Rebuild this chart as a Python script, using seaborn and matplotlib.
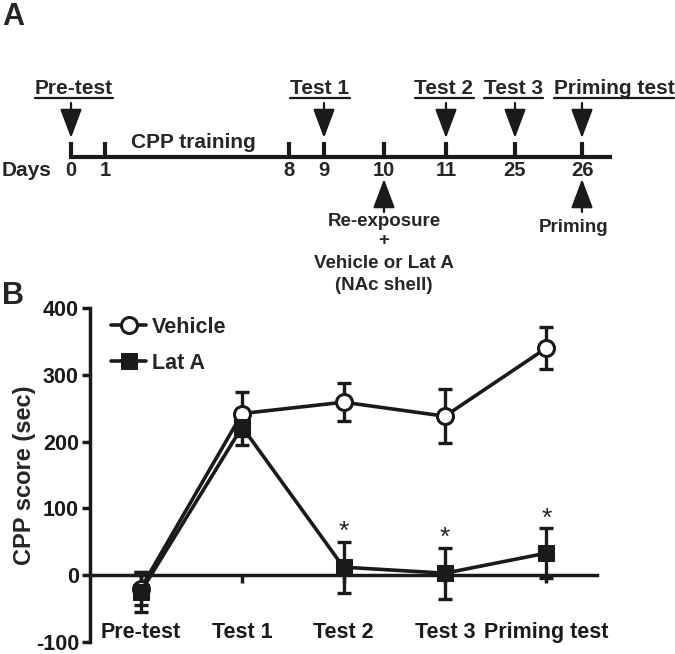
import numpy as np
import pandas as pd
import matplotlib
matplotlib.use("Agg")
import matplotlib.pyplot as plt
import seaborn as sns

# ---- data (panel B) ----
sessions = ["Pre-test", "Test 1", "Test 2", "Test 3", "Priming test"]
vehicle_mean = [-20, 242, 259, 238, 340]
vehicle_sem = [25, 33, 28, 40, 32]
lata_mean = [-25, 222, 12, 3, 33]
lata_sem = [30, 27, 38, 38, 37]
lata_signif = [False, False, True, True, True]

# ---- timeline (panel A) ----
day_labels = ["0", "1", "8", "9", "10", "11", "25", "26"]
test_names = ["Pre-test", "Test 1", "Test 2", "Test 3", "Priming test"]
test_days = ["0", "9", "11", "25", "26"]

sns.set_theme(style="ticks")
plt.rcParams["font.family"] = ["Liberation Sans", "DejaVu Sans"]
plt.rcParams["font.weight"] = "bold"
plt.rcParams["axes.unicode_minus"] = False

fig = plt.figure(figsize=(6.75, 6.54), dpi=100)

# panel A drawn in pixel-like coordinates
axA = fig.add_axes([0, 0, 1, 1])
axA.set_xlim(0, 675)
axA.set_ylim(654, 0)
axA.axis("off")

day_x = dict(zip(day_labels, [71, 105, 289, 324, 384, 446, 515, 582]))
line_y = 157
axA.plot([69, 612], [line_y, line_y], color="k", lw=3, solid_capstyle="butt")
for d in day_labels:
    axA.plot([day_x[d], day_x[d]], [142, line_y], color="k", lw=3, solid_capstyle="butt")
    axA.text(day_x[d], 171, d, ha="center", va="center", fontsize=14.5)
axA.text(2, 171, "Days", ha="left", va="center", fontsize=15)
axA.text(193, 143, "CPP training", ha="center", va="center", fontsize=15)

arrow_kw = dict(arrowstyle="-|>,head_length=1.2,head_width=0.45", color="k",
                lw=1.6, mutation_scale=15, shrinkA=0, shrinkB=0)
label_cx = {"Pre-test": 74, "Test 1": 320, "Test 2": 444, "Test 3": 513, "Priming test": 614}
title_texts = []
for name, d in zip(test_names, test_days):
    axA.annotate("", xy=(day_x[d], 138), xytext=(day_x[d], 103), arrowprops=arrow_kw)
    t = axA.text(label_cx[name], 89, name, ha="center", va="center", fontsize=15)
    title_texts.append(t)

for d in ["10", "26"]:
    axA.annotate("", xy=(day_x[d], 179), xytext=(day_x[d], 212), arrowprops=arrow_kw)
small = dict(ha="center", va="center", fontsize=13.5)
axA.text(day_x["10"], 221, "Re-exposure", **small)
axA.text(day_x["10"], 241, "+", **small)
axA.text(day_x["10"], 264, "Vehicle or Lat A", **small)
axA.text(day_x["10"], 286, "(NAc shell)", **small)
axA.text(574, 228, "Priming", **small)

axA.text(2, 17, "A", ha="left", va="center", fontsize=22)
axA.text(2, 296, "B", ha="left", va="center", fontsize=22)

# underline the test names
fig.canvas.draw()
renderer = fig.canvas.get_renderer()
inv = axA.transData.inverted()
for t in title_texts:
    bb = t.get_window_extent(renderer)
    (x0, y0), (x1, y1) = inv.transform([[bb.x0, bb.y0], [bb.x1, bb.y1]])
    axA.plot([x0, x1], [98, 98], color="k", lw=1.6)

# ---- panel B ----
axB = fig.add_axes([90 / 675, 1 - 642 / 654, 507 / 675, (642 - 308) / 654])
axB.set_facecolor("none")
pos = np.arange(len(sessions))
df = pd.DataFrame({
    "pos": np.concatenate([pos, pos]),
    "score": vehicle_mean + lata_mean,
    "group": ["Vehicle"] * len(pos) + ["Lat A"] * len(pos),
})

axB.errorbar(pos, vehicle_mean, yerr=vehicle_sem, fmt="none", ecolor="k",
             elinewidth=2.4, capsize=5, capthick=2.4, zorder=2)
axB.errorbar(pos, lata_mean, yerr=lata_sem, fmt="none", ecolor="k",
             elinewidth=2.4, capsize=5, capthick=2.4, zorder=2)
sns.lineplot(data=df[df.group == "Vehicle"], x="pos", y="score", ax=axB, color="k",
             lw=2.6, marker="o", markersize=11.5, markerfacecolor="white",
             markeredgecolor="k", markeredgewidth=2.2, label="Vehicle", zorder=3)
sns.lineplot(data=df[df.group == "Lat A"], x="pos", y="score", ax=axB, color="k",
             lw=2.6, marker="s", markersize=12, markerfacecolor="k",
             markeredgecolor="k", label="Lat A", zorder=4)

for p, m, s, sig in zip(pos, lata_mean, lata_sem, lata_signif):
    if sig:
        axB.text(p, m + s + 15, "*", ha="center", va="center", fontsize=19, fontweight="normal")

axB.set_xlim(-0.5, 4.5)
axB.set_ylim(-100, 400)
axB.set_yticks([-100, 0, 100, 200, 300, 400])
axB.set_xticks(pos)
axB.set_xticklabels(sessions)
axB.spines["bottom"].set_position(("data", 0))
axB.spines["right"].set_visible(False)
axB.spines["top"].set_visible(False)
for sp in ["left", "bottom"]:
    axB.spines[sp].set_linewidth(2.5)
    axB.spines[sp].set_color("k")
axB.tick_params(axis="x", length=6, width=2.5, pad=28, labelsize=15.5, colors="k")
axB.tick_params(axis="y", length=6, width=2.5, pad=2, labelsize=15.5, colors="k")
axB.set_xlabel("")
axB.set_ylabel("CPP score (sec)", fontsize=17, fontweight="bold", labelpad=0)

leg = axB.legend(loc="upper left", frameon=False, fontsize=15.5, handlelength=1.6,
                 handletextpad=0.3, labelspacing=0.7, borderaxespad=0.0,
                 bbox_to_anchor=(0.025, 1.0))

fig.savefig("out.png", dpi=100)
